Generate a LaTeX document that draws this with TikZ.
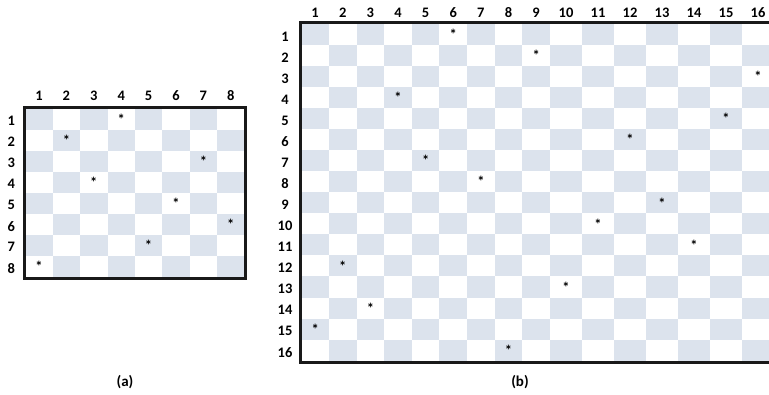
\documentclass[tikz,border=0pt]{standalone}
\usepackage{fontspec}
\setmainfont{Carlito}
\definecolor{cellblue}{HTML}{DCE3ED}

\begin{document}
\begin{tikzpicture}[x=1pt, y=-1pt,
    lbl/.style={font=\bfseries\fontsize{14.5}{16}\selectfont, inner sep=0pt},
    queen/.style={font=\bfseries\fontsize{14.5}{16}\selectfont, inner sep=0pt},
    lightcell/.style={fill=cellblue},
    frame/.style={draw=black!90, line width=3pt},
    caption/.style={font=\bfseries\fontsize{15}{17}\selectfont, inner sep=0pt}
]
\useasboundingbox (0,0) rectangle (769,394);

% Board (a): 8 x 8
\foreach \r in {1,...,8}
  \foreach \c in {1,...,8} {
    \pgfmathtruncatemacro\odd{mod(\r+\c,2)}
    \ifnum\odd=0
      \fill[lightcell] ({25.3+(\c-1)*27.4},{108.7+(\r-1)*21.08}) rectangle ++(27.4,21.08);
    \fi
  }
\draw[frame] (24,107.3) rectangle (245.7,278.7);
\foreach \c in {1,...,8}
  \node[lbl] (a-c\c) at ({25.3+(\c-0.5)*27.4},96) {\c};
\foreach \r in {1,...,8}
  \node[lbl] (a-r\r) at (11.3,{108.7+(\r-0.5)*21.08+1.5}) {\r};
\foreach \r/\c in {1/4,2/2,3/7,4/3,5/6,6/8,7/5,8/1}
  \node[queen] (a-q\r) at ({25.3+(\c-0.5)*27.4},{108.7+(\r-0.5)*21.08}) {*};
\node[caption] (cap-a) at (125,382) {(a)};

% Board (b): 16 x 16, columns 10-16 are wider
\begin{scope}
\clip (0,0) rectangle (769,394);
\foreach \r in {1,...,16}
  \foreach \c in {1,...,16} {
    \pgfmathtruncatemacro\odd{mod(\r+\c,2)}
    \pgfmathsetmacro\xl{(\c<10) ? 301.3+(\c-1)*27.63 : 550+(\c-10)*32}
    \pgfmathsetmacro\w{(\c<10) ? 27.63 : 32}
    \ifnum\odd=0
      \fill[lightcell] (\xl,{24+(\r-1)*21.04}) rectangle ++(\w,21.04);
    \fi
  }
\draw[frame] (300,22.5) rectangle (776,362);
\end{scope}
\foreach \c in {1,...,16} {
  \pgfmathsetmacro\xm{(\c<10) ? 301.3+(\c-0.5)*27.63 : 550+(\c-9.5)*32}
  \node[lbl] (b-c\c) at (\xm,13) {\c};
}
\foreach \r in {1,...,16}
  \node[lbl] (b-r\r) at (285,{24+(\r-0.5)*21.04+2}) {\r};
\foreach \r/\c in {1/6,2/9,3/16,4/4,5/15,6/12,7/5,8/7,9/13,10/11,11/14,12/2,13/10,14/3,15/1,16/8} {
  \pgfmathsetmacro\xm{(\c<10) ? 301.3+(\c-0.5)*27.63 : 550+(\c-9.5)*32}
  \node[queen] (b-q\r) at (\xm,{24+(\r-0.5)*21.04}) {*};
}
\node[caption] (cap-b) at (520,382) {(b)};
\end{tikzpicture}
\end{document}
